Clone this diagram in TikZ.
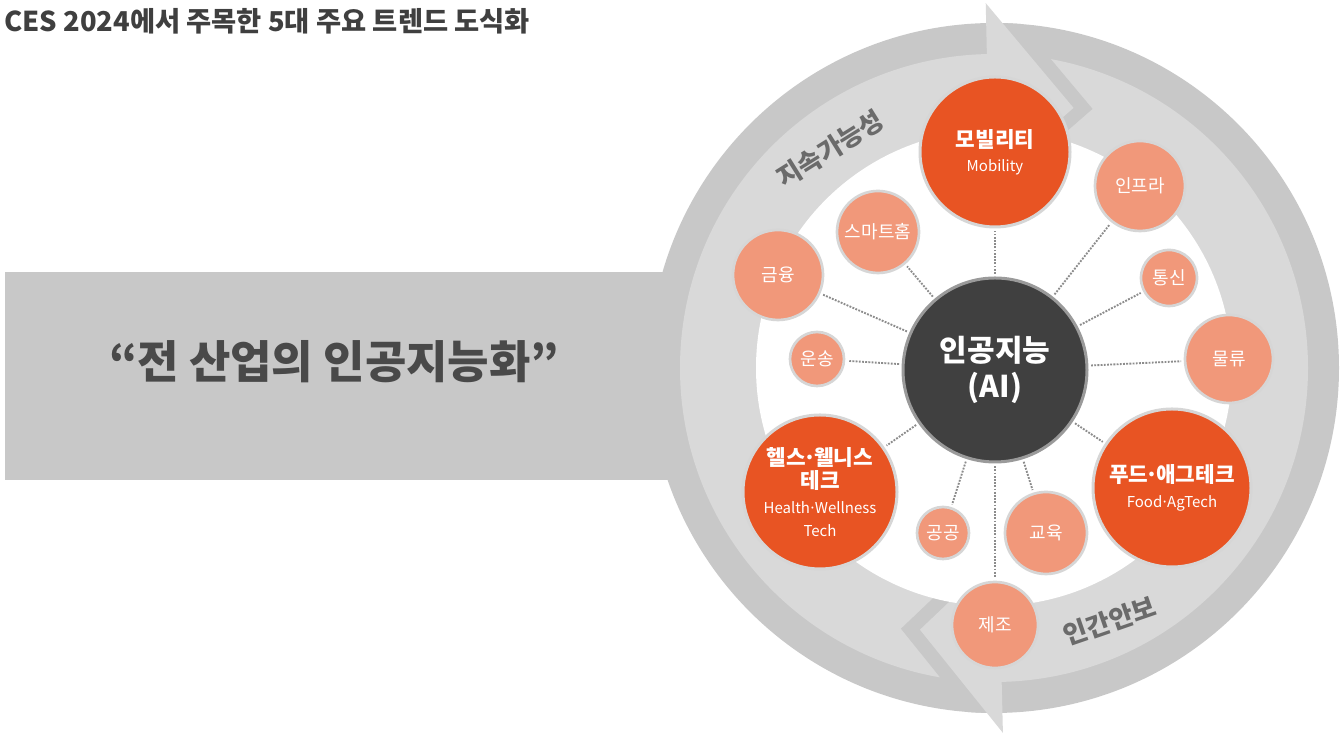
\documentclass[tikz,border=0pt]{standalone}
\usepackage{fontspec}
\setmainfont{Noto Sans CJK KR}
\usepackage{tikz}
\definecolor{ringdark}{HTML}{C8C8C8}
\definecolor{ringlight}{HTML}{D9D9D9}
\definecolor{orbig}{HTML}{E85423}
\definecolor{orsmall}{HTML}{F1987A}
\definecolor{hubgray}{HTML}{404040}
\definecolor{hubedge}{HTML}{9A9A9A}
\definecolor{edgegray}{HTML}{D6D6D6}
\definecolor{dotgray}{HTML}{8C8C8C}
\definecolor{lblgray}{HTML}{6B6B6B}
\definecolor{titlegray}{HTML}{3F3F3F}
\newcommand{\mdot}{\kern-0.12em·\kern-0.12em}
\tikzstyle{link} = [densely dotted, line width=1.4pt, dotgray, shorten >=2pt, shorten <=2pt]

\begin{document}
\begin{tikzpicture}[x=0.75pt, y=0.75pt,
  hub/.style={circle, fill=hubgray, draw=hubedge, line width=2.25pt, inner sep=0pt, text=white, align=center, font=\bfseries\fontsize{22.5}{27}\selectfont},
  major/.style={circle, fill=orbig, draw=edgegray, line width=2.25pt, inner sep=0pt, text=white, align=center, font=\bfseries\fontsize{16}{18}\selectfont},
  minor/.style={circle, fill=orsmall, draw=edgegray, line width=2pt, inner sep=0pt, text=white, font=\fontsize{13.5}{15}\selectfont},
  ringlbl/.style={inner sep=0pt, text=lblgray, font=\bfseries\fontsize{19.5}{22}\selectfont},
  rpx/.style={minimum size=#1*1.5pt}]
  \useasboundingbox (0,0) rectangle (1340,737);

  % title and banner
  \node[anchor=west, inner sep=0pt, text=titlegray, font=\bfseries\fontsize{20.5}{22}\selectfont] (title) at (4,716) {CES 2024에서 주목한 5대 주요 트렌드 도식화};
  \fill[ringdark] (5,257) rectangle (700,465);
  \node[text=titlegray!95, font=\bfseries\fontsize{33.75}{40}\selectfont] (slogan) at (334,375) {“전 산업의 인공지능화”};

  % ring with the two arrows
  \begin{scope}[shift={(994,369)}]
    \fill[ringdark] (0,0) circle (345);
    \fill[ringlight] (0,0) circle (314);
    \begin{scope}
      \clip (0,0) circle (345);
      \fill[ringdark, shift={(19,-1)}] (91.3:365) -- (73:272) -- (91.3:187) -- cycle;
      \fill[ringdark, shift={(-19,1)}] (-88.6:365) -- (-105.8:272) -- (-88.6:187) -- cycle;
    \end{scope}
    \fill[ringlight] (91.3:365) -- (73:272) -- (91.3:187) -- cycle;
    \fill[ringlight] (-88.6:365) -- (-105.8:272) -- (-88.6:187) -- cycle;
    \fill[white] (0,0) circle (238);
  \end{scope}

  \node[ringlbl, rotate=32] (sustain) at (830,588) {지속가능성};
  \node[ringlbl, rotate=19] (security) at (1110,116) {인간안보};

  % Node positions
  \node[hub, rpx=92] (ai) at (995,367) {인공지능\\(AI)};
  \node[major, rpx=75] (mob) at (995,585) {모빌리티\\[0pt]\mdseries\fontsize{11.25}{14}\selectfont Mobility};
  \node[major, rpx=79] (food) at (1172,249) {푸드\mdot 애그테크\\[1pt]\mdseries\fontsize{11.25}{14}\selectfont Food\mdot AgTech};
  \node[major, rpx=77] (health) at (820,245) {헬스\mdot 웰니스\\[-1pt]테크\\[1pt]\mdseries\fontsize{11.25}{12.5}\selectfont Health\mdot Wellness\\[-1pt]\mdseries\fontsize{11.25}{12.5}\selectfont Tech};
  \node[minor, rpx=45] (infra) at (1140,551) {인프라};
  \node[minor, rpx=28] (tele) at (1169,459) {통신};
  \node[minor, rpx=44] (logi) at (1229,378) {물류};
  \node[minor, rpx=41] (edu) at (1046,204) {교육};
  \node[minor, rpx=43] (manu) at (995,112) {제조};
  \node[minor, rpx=26] (pub) at (943,204) {공공};
  \node[minor, rpx=27] (trans) at (817,378) {운송};
  \node[minor, rpx=45] (fin) at (778,462) {금융};
  \node[minor, rpx=41] (home) at (878,505) {스마트홈};

  \foreach \s in {mob,infra,tele,logi,food,edu,manu,pub,health,trans,fin,home}
    \draw[link] (ai) -- (\s);
\end{tikzpicture}
\end{document}
